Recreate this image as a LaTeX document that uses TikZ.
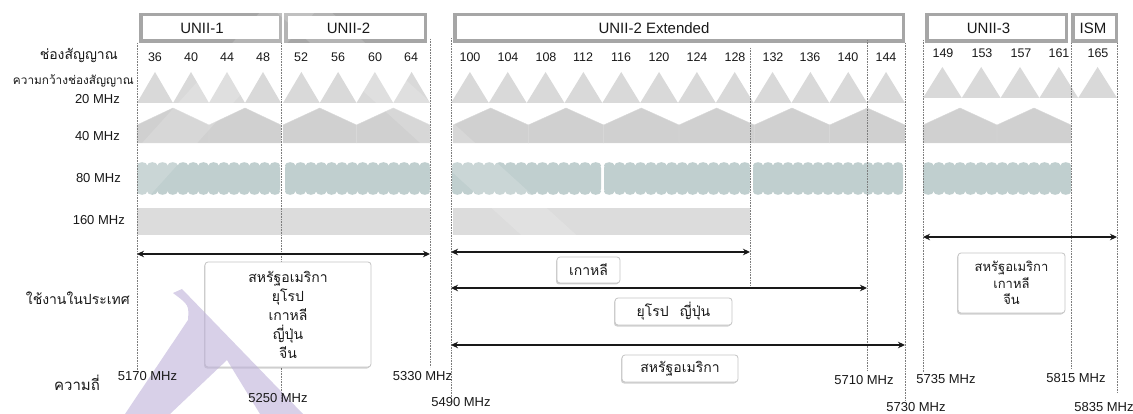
\documentclass[tikz,border=0pt]{standalone}
\usepackage{fontspec}
\setmainfont{Liberation Sans}
\newfontfamily\thaifont[Script=Thai]{Loma}
\usetikzlibrary{arrows.meta,shadows}

\definecolor{hdrgray}{RGB}{166,166,166}
\definecolor{tri}{RGB}{217,217,217}
\definecolor{forty}{RGB}{208,208,208}
\definecolor{fortyedge}{RGB}{216,216,216}
\definecolor{eighty}{RGB}{192,207,207}
\definecolor{onesixty}{RGB}{220,220,220}
\definecolor{guidegray}{RGB}{125,125,125}
\definecolor{boxedge}{RGB}{196,196,196}
\definecolor{txt}{RGB}{25,25,25}
\definecolor{markviolet}{RGB}{190,177,217}

\tikzset{
  hdrbox/.style={draw=hdrgray, line width=3.5pt, fill=white, inner sep=0pt, outer sep=0pt},
  hdrtext/.style={font=\fontsize{15}{17}\selectfont, text=txt, inner sep=0pt},
  chnum/.style={font=\fontsize{12.5}{14}\selectfont, text=txt, inner sep=0pt},
  rowlbl/.style={font=\fontsize{13}{15}\selectfont, text=txt, inner sep=0pt, anchor=east},
  freqlbl/.style={font=\fontsize{13}{15}\selectfont, text=txt, inner sep=0pt},
  thlbl/.style={font=\thaifont\fontsize{14}{16}\selectfont, text=txt, inner sep=0pt},
  guide/.style={draw=guidegray, line width=0.6pt, dash pattern=on 0.8pt off 0.8pt},
  span/.style={draw=txt, line width=1.7pt, {Stealth[length=7pt,width=6.5pt]}-{Stealth[length=7pt,width=6.5pt]}},
  cbox/.style={draw=boxedge, line width=0.8pt, fill=white, rounded corners=3pt, align=center,
    font=\thaifont\fontsize{14}{19}\selectfont, text=txt, inner sep=0pt,
    drop shadow={shadow xshift=-1pt, shadow yshift=-1.5pt, opacity=0.18, fill=black}},
  glare/.style={fill=white, opacity=0.16},
}

\begin{document}
\begin{tikzpicture}[x=1pt,y=-1pt]
\useasboundingbox (0,0) rectangle (1133,414);
\fill[white] (0,0) rectangle (1133,414);

% ---- 20 MHz channels: one triangle per channel
\foreach \a/\w/\n/\yb in {137/36/4/103, 283/36.75/4/103, 451/37.83/12/103, 923/38.8/5/98} {
  \foreach \i in {1,...,\n} {
    \fill[tri] ({\a+\w*(\i-1)},\yb) -- ({\a+\w*(\i-0.5)},{\yb-31}) -- ({\a+\w*\i},\yb) -- cycle;
  }
}

% ---- 40 MHz channels: house-shaped blocks
\foreach \a/\w/\n in {137/72/2, 283/73.5/2, 453/75.33/6, 923/74/2} {
  \foreach \i in {1,...,\n} {
    \filldraw[fill=forty, draw=fortyedge, line width=0.4pt]
      ({\a+\w*(\i-1)},143) -- ({\a+\w*(\i-1)},125) -- ({\a+\w*(\i-0.5)},108)
      -- ({\a+\w*\i},125) -- ({\a+\w*\i},143) -- cycle;
  }
}

% ---- 80 MHz channels: bars with scalloped edges
\foreach \a/\b in {137/280, 285/430, 452/601, 604/750, 753/903, 923/1071} {
  \pgfmathtruncatemacro\nb{round((\b-\a)/10.3)}
  \pgfmathsetmacro\rb{(\b-\a)/\nb/2}
  \fill[eighty, rounded corners=2.5pt] (\a,165.5) rectangle (\b,191.5);
  \foreach \i in {1,...,\nb} {
    \fill[eighty] ({\a+\rb*(2*\i-1)},165.5) ellipse [x radius=\rb pt, y radius=3.3pt];
    \fill[eighty] ({\a+\rb*(2*\i-1)},191.5) ellipse [x radius=\rb pt, y radius=3.3pt];
  }
}

% ---- 160 MHz channels
\fill[onesixty] (137,208) rectangle (430,235);
\fill[onesixty] (453,208) rectangle (750,235);

% ---- band headers (frames)
\node[hdrbox, minimum width=139.5pt, minimum height=26.5pt] (unii1) at (210.5,28) {};
\node[hdrbox, minimum width=139.5pt, minimum height=26.5pt] (unii2) at (355.5,28) {};
\node[hdrbox, minimum width=448.5pt, minimum height=26.5pt] (unii2e) at (679,28) {};
\node[hdrbox, minimum width=139.5pt, minimum height=26.5pt] (unii3) at (996.5,28) {};
\node[hdrbox, minimum width=43.5pt, minimum height=26.5pt] (ism) at (1094.5,28) {};

% ---- light sheen across the chart
\fill[glare] (263,0) -- (318,0) -- (773,414) -- (718,414) -- cycle;
\fill[glare] (271,0) -- (326,0) -- (-47,414) -- (-102,414) -- cycle;

% ---- dotted frequency guides
\foreach \n/\x/\t/\b in {g5170/137/43/373, g5250/281/43/403, g5330/430/39/367,
    g5490/451/38/398, g5650/750/48/285, g5710/867/40/370, g5730/905/43/400,
    g5735/923/40/372, g5815/1071/43/368, g5835/1117/43/393} {
  \coordinate (\n-top) at (\x,\t);
  \coordinate (\n-bot) at (\x,\b);
  \draw[guide] (\n-top) -- (\n-bot);
}

% ---- band header titles
\node[hdrtext] (unii1t) at (202,28) {UNII-1};
\node[hdrtext] (unii2t) at (348.5,28) {UNII-2};
\node[hdrtext] (unii2et) at (654,28) {UNII-2 Extended};
\node[hdrtext] (unii3t) at (988.5,28) {UNII-3};
\node[hdrtext] (ismt) at (1093,28) {ISM};

% ---- channel numbers
\foreach \c/\x in {36/155, 40/191, 44/227, 48/263, 52/301, 56/338, 60/375, 64/411,
    100/470, 104/508, 108/546, 112/583, 116/621, 120/659, 124/697, 128/735,
    132/773, 136/810, 140/848, 144/886} {
  \node[chnum] (ch\c) at (\x,57) {\c};
}
\foreach \c/\x in {149/943, 153/982, 157/1021, 161/1059, 165/1098} {
  \node[chnum] (ch\c) at (\x,53) {\c};
}

% ---- usage ranges
\coordinate (r1w) at (137,254);  \coordinate (r1e) at (430,254);
\coordinate (r2w) at (451,252);  \coordinate (r2e) at (750,252);
\coordinate (r3w) at (451,288);  \coordinate (r3e) at (867,288);
\coordinate (r4w) at (451,345);  \coordinate (r4e) at (905,345);
\coordinate (r5w) at (923,237);  \coordinate (r5e) at (1117,237);
\draw[span] (r1w) -- (r1e);
\draw[span] (r2w) -- (r2e);
\draw[span] (r3w) -- (r3e);
\draw[span] (r4w) -- (r4e);
\draw[span] (r5w) -- (r5e);

% ---- countries per range
\node[cbox, minimum width=166pt, minimum height=105pt] (c1) at (288,314.5)
  {สหรัฐอเมริกา\\ยุโรป\\เกาหลี\\ญี่ปุ่น\\จีน};
\node[cbox, minimum width=63pt, minimum height=26pt] (c2) at (588.5,270) {เกาหลี};
\node[cbox, minimum width=117pt, minimum height=27pt] (c3) at (673.5,311.5) {ยุโรป\hspace{11pt}ญี่ปุ่น};
\node[cbox, minimum width=116pt, minimum height=27pt] (c4) at (680,368.5) {สหรัฐอเมริกา};
\node[cbox, minimum width=107pt, minimum height=60pt, font=\thaifont\fontsize{13}{16.5}\selectfont] (c5) at (1011.5,283)
  {สหรัฐอเมริกา\\เกาหลี\\จีน};

% ---- translucent violet emblem
\fill[markviolet, opacity=0.6] (173,293) -- (182,289) -- (303,414) -- (260,414)
  -- (227,360) -- (170,414) -- (125,414) -- (188,320) .. controls (189,305) .. (173,293) -- cycle;

% ---- row captions
\node[thlbl, anchor=east] (capch) at (118,55) {ช่องสัญญาณ};
\node[thlbl, anchor=east, font=\thaifont\fontsize{11.8}{14}\selectfont] (capwidth) at (134,81) {ความกว้างช่องสัญญาณ};
\node[rowlbl] (cap20) at (120,99) {20 MHz};
\node[rowlbl] (cap40) at (120,136) {40 MHz};
\node[rowlbl] (cap80) at (121,178) {80 MHz};
\node[rowlbl] (cap160) at (125,220) {160 MHz};
\node[thlbl, anchor=east] (capuse) at (130,298) {ใช้งานในประเทศ};
\node[thlbl, font=\thaifont\fontsize{15}{17}\selectfont] (capfreq) at (77,383) {ความถี่};

% ---- edge frequencies
\node[freqlbl] (f5170) at (147.5,376) {5170 MHz};
\node[freqlbl] (f5250) at (278,398) {5250 MHz};
\node[freqlbl] (f5330) at (422.5,376) {5330 MHz};
\node[freqlbl] (f5490) at (461,402) {5490 MHz};
\node[freqlbl] (f5710) at (864,380) {5710 MHz};
\node[freqlbl] (f5730) at (916,407) {5730 MHz};
\node[freqlbl] (f5735) at (946,379) {5735 MHz};
\node[freqlbl] (f5815) at (1076,378) {5815 MHz};
\node[freqlbl] (f5835) at (1104,407) {5835 MHz};
\end{tikzpicture}
\end{document}
